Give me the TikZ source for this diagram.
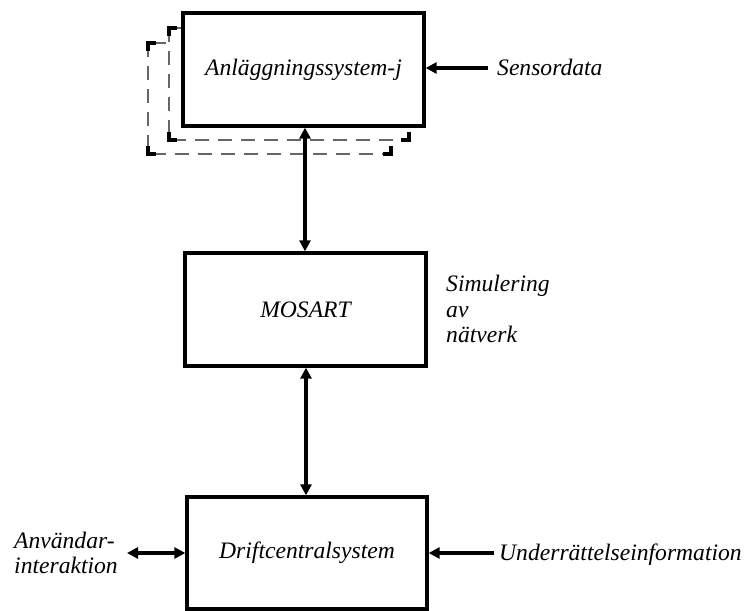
\documentclass[tikz,border=0pt]{standalone}
\usepackage{fontspec}
\setmainfont{Liberation Serif}
\usetikzlibrary{arrows.meta}

% a dashed frame with heavy corner marks, drawn behind a block
\newcommand\ghostframe[4]{%
  \path[ghost] (#1,#2) rectangle (#3,#4);
  \draw[corner] (#1,#2+8) -- (#1,#2) -- (#1+8,#2);
  \draw[corner] (#3-8,#2) -- (#3,#2) -- (#3,#2+8);
  \draw[corner] (#1,#4-8) -- (#1,#4) -- (#1+8,#4);
  \draw[corner] (#3-8,#4) -- (#3,#4) -- (#3,#4-8);
}

\begin{document}
\begin{tikzpicture}[x=1pt,y=-1pt,
  txt/.style={font=\fontsize{23.6}{25.5}\selectfont\itshape},
  blk/.style={txt,draw,line width=3.3pt,fill=white,minimum width=241pt,
    minimum height=113pt,inner sep=0pt},
  lbl/.style={txt,inner sep=0pt,align=left},
  tip/.tip={Triangle[length=11pt,width=11pt]},
  arr/.style={line width=3.2pt,-tip},
  darr/.style={line width=3.2pt,tip-tip},
  ghost/.style={draw=black!60,line width=1.4pt,dash pattern=on 14pt off 9pt,fill=white},
  corner/.style={line width=3.3pt,line join=miter}
]
\useasboundingbox (0,0) rectangle (748,611);
\fill[white] (0,0) rectangle (748,611);

% stacked instances behind the plant system block
\ghostframe{148}{43}{391}{154}
\ghostframe{169}{28}{409}{140}

% blocks
\node[blk] (anl) at (303.5,69.5) {Anläggningssystem-j};
\node[blk] (mos) at (305.5,309.5) {MOSART};
\node[blk,minimum width=240pt,minimum height=112pt] (drift) at (307,553) {Driftcentralsystem};

% labels
\node[lbl,anchor=base west] (sens) at (497,75) {Sensordata};
\node[lbl,anchor=west] (sim) at (446,309) {Simulering\\av\\nätverk};
\node[lbl,anchor=west] (anv) at (14,553) {Användar-\\interaktion};
\node[lbl,anchor=base west] (und) at (499,560) {Underrättelseinformation};

% connectors
\coordinate (ax) at (305,0);
\coordinate (bx) at (306,0);
\draw[darr] (anl.south -| ax) -- (mos.north -| ax);
\draw[darr] (mos.south -| bx) -- (drift.north -| bx);

\coordinate (sensin) at (488,68);
\draw[arr] (sensin) -- (sensin -| anl.east);

\coordinate (undin) at (494,553);
\draw[arr] (undin) -- (undin -| drift.east);

\coordinate (anvout) at (127,553);
\draw[darr] (anvout) -- (anvout -| drift.west);
\end{tikzpicture}
\end{document}
